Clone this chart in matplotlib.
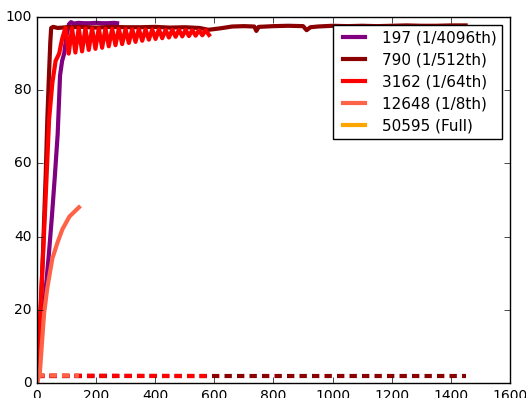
import matplotlib
matplotlib.use("Agg")
import matplotlib.pyplot as plt
import numpy as np

# accuracy curves (solid) and loss curves (dashed) per dataset size
labels = ['197 (1/4096th)', '790 (1/512th)', '3162 (1/64th)', '12648 (1/8th)', '50595 (Full)']
colors = ['purple', 'darkred', 'red', 'tomato', 'orange']

purple_x = [0, 10, 20, 30, 40, 50, 60, 70, 78, 85, 92, 100, 108, 115, 125, 140, 160, 180, 200, 220, 240, 260, 271]
purple_acc = [0, 8, 17, 26, 35, 45, 56, 68, 84, 88, 90, 95, 98.0, 98.6, 98.2, 98.4, 98.3, 98.3, 98.4, 98.3, 98.3, 98.4, 98.3]

darkred_x = [0, 10, 20, 30, 35, 40, 45, 48, 55, 70, 100, 150, 200, 250, 300, 350, 400, 450, 500,
             550, 580, 620, 660, 700, 735, 742, 750, 800, 850, 900, 912, 925, 950, 1000, 1050,
             1100, 1150, 1200, 1250, 1300, 1350, 1400, 1450]
darkred_acc = [0, 15, 35, 58, 72, 83, 93, 97, 97.3, 97.0, 97.2, 97.3, 97.1, 97.3, 97.2, 97.2, 97.3, 97.1, 97.2,
               97.0, 96.5, 96.9, 97.4, 97.5, 97.4, 96.2, 97.3, 97.5, 97.6, 97.5, 96.4, 97.2, 97.4, 97.6, 97.5,
               97.6, 97.5, 97.6, 97.7, 97.6, 97.6, 97.7, 97.7]

red_x = [0, 12, 29, 41, 52, 63, 75, 85] + list(np.arange(96, 584, 11.3))
red_acc = [0, 20, 50, 72, 82, 88, 90, 94,
           97.0, 90.0, 97.0, 90.3, 97.0, 90.6, 96.9, 91.0, 96.9, 91.3, 96.9, 91.6,
           96.8, 92.0, 96.8, 92.3, 96.8, 92.6, 96.7, 92.9, 96.7, 93.2, 96.7, 93.5,
           96.6, 93.8, 96.6, 94.0, 96.6, 94.2, 96.5, 94.4, 96.5, 94.6, 96.5, 94.7,
           96.5, 94.8, 96.4, 94.9, 96.4, 95.0, 96.4, 95.1]

tomato_x = [0, 10, 16, 24, 35, 52, 70, 86, 110, 142]
tomato_acc = [0, 3, 10, 19, 26, 34, 38.5, 42, 45.5, 48]

orange_x = [0]
orange_acc = [0]

purple_loss_x = [0, 271]
purple_loss = [2.0, 2.0]
darkred_loss_x = [0, 1450]
darkred_loss = [1.9, 1.9]
red_loss_x = [0, 583]
red_loss = [2.0, 1.9]
tomato_loss_x = [0, 142]
tomato_loss = [2.1, 2.0]
orange_loss_x = [0]
orange_loss = [2.0]

acc_x = [purple_x, darkred_x, red_x, tomato_x, orange_x]
acc_y = [purple_acc, darkred_acc, red_acc, tomato_acc, orange_acc]
loss_x = [purple_loss_x, darkred_loss_x, red_loss_x, tomato_loss_x, orange_loss_x]
loss_y = [purple_loss, darkred_loss, red_loss, tomato_loss, orange_loss]

plt.style.use('classic')
plt.rcParams['figure.facecolor'] = 'white'
plt.rcParams['savefig.facecolor'] = 'white'
plt.rcParams['font.size'] = 10
plt.rcParams['font.family'] = 'DejaVu Sans'

fig = plt.figure(figsize=(5.26, 3.98), dpi=100)
ax = fig.add_axes([0.0703, 0.0377, 0.8993, 0.9196])

for i in range(len(labels)):
    ax.plot(acc_x[i], acc_y[i], color=colors[i], lw=3, label=labels[i])
    ax.plot(loss_x[i], loss_y[i], color=colors[i], lw=3, dashes=(5.3, 3.7))

ax.set_xlim(0, 1600)
ax.set_ylim(0, 100)
ax.set_xticks(np.arange(0, 1601, 200))
ax.set_yticks(np.arange(0, 101, 20))
ax.tick_params(labelsize=10)
ax.legend(loc='upper right', fontsize=11, labelspacing=0.45)

fig.savefig('out.png', dpi=100)
